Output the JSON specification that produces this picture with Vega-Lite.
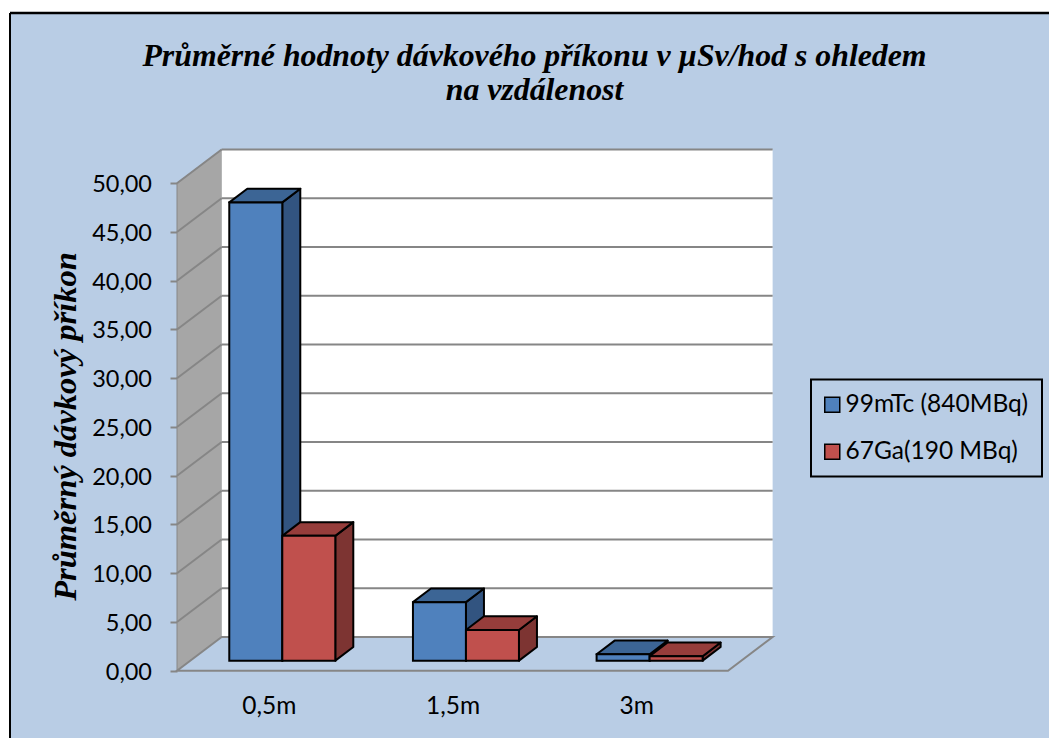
{
  "$schema": "https://vega.github.io/schema/vega-lite/v6.json",
  "autosize": {"type": "none"},
  "padding": {"left": 10, "top": 13, "right": 0, "bottom": 0},
  "width": 1039,
  "height": 725,
  "background": "white",
  "config": {
    "view": {"fill": "#B9CDE5", "stroke": null},
    "font": "Lato",
    "axis": {"grid": false, "domain": false},
    "legend": {"strokeWidth": 2}
  },
  "title": {
    "text": ["Průměrné hodnoty dávkového příkonu v µSv/hod s ohledem", "na vzdálenost"],
    "font": "Liberation Serif",
    "fontSize": 31.8,
    "fontWeight": "bold",
    "fontStyle": "italic",
    "color": "black",
    "anchor": "middle",
    "frame": "group",
    "lineHeight": 34,
    "dx": 5,
    "dy": 99
  },
  "data": {
    "values": [
      {"category": "0,5m", "series": "99mTc (840MBq)", "value": 47.0},
      {"category": "0,5m", "series": "67Ga(190 MBq)", "value": 12.8},
      {"category": "1,5m", "series": "99mTc (840MBq)", "value": 6.0},
      {"category": "1,5m", "series": "67Ga(190 MBq)", "value": 3.15},
      {"category": "3m", "series": "99mTc (840MBq)", "value": 0.65},
      {"category": "3m", "series": "67Ga(190 MBq)", "value": 0.45}
    ]
  },
  "transform": [
    {"calculate": "indexof(['0,5m','1,5m','3m'], datum.category) + 0.2846 + (datum.series === '99mTc (840MBq)' ? 0 : 0.2886)", "as": "left"},
    {"calculate": "datum.left + 0.2886", "as": "right"},
    {"calculate": "1.03", "as": "base"},
    {"calculate": "datum.value + 1.03", "as": "top"}
  ],
  "layer": [
    {
      "description": "Left wall of the box",
      "data": {"values": [{"plane": 0}, {"plane": 1}]},
      "transform": [
        {"calculate": "datum.plane * 0.243", "as": "wx"},
        {"calculate": "datum.plane * 3.45", "as": "wlow"},
        {"calculate": "50 + datum.plane * 3.45", "as": "whigh"}
      ],
      "mark": {"type": "area", "fill": "#A6A6A6", "stroke": "#868686", "strokeWidth": 1},
      "encoding": {
        "x": {
          "field": "wx",
          "type": "quantitative",
          "scale": {"domain": [-0.9093, 4.7477], "nice": false, "zero": false},
          "axis": {
            "values": [0.5, 1.5, 2.5],
            "labelExpr": "['0,5m','1,5m','3m'][floor(datum.value)]",
            "title": null,
            "ticks": false,
            "offset": -67.3,
            "labelPadding": 24,
            "labelFontSize": 24.5,
            "labelFont": "Lato",
            "labelColor": "black"
          }
        },
        "y": {
          "field": "wlow",
          "type": "quantitative",
          "scale": {"domain": [-6.903, 67.456], "nice": false, "zero": false},
          "axis": {
            "values": [0, 5, 10, 15, 20, 25, 30, 35, 40, 45, 50],
            "labelExpr": "replace(format(datum.value, '.2f'), '.', ',')",
            "title": "Průměrný dávkový příkon",
            "titleFont": "Liberation Serif",
            "titleFontSize": 32.5,
            "titleFontWeight": "bold",
            "titleFontStyle": "italic",
            "titleColor": "black",
            "titleAngle": -90,
            "titleX": -102,
            "titleY": 413,
            "titleAlign": "center",
            "titleBaseline": "alphabetic",
            "tickColor": "#868686",
            "tickWidth": 2,
            "tickSize": 7,
            "offset": -167,
            "labelPadding": 18.5,
            "labelOffset": 1.5,
            "labelFontSize": 23.5,
            "labelFont": "Lato",
            "labelColor": "black"
          }
        },
        "y2": {"field": "whigh"}
      }
    },
    {
      "description": "Back wall",
      "data": {"values": [{"from": 0, "to": 3, "low": 0, "high": 50}]},
      "transform": [
        {"calculate": "datum.from + 0.243", "as": "bx"},
        {"calculate": "datum.to + 0.243", "as": "bx2"},
        {"calculate": "datum.low + 3.45", "as": "by"},
        {"calculate": "datum.high + 3.45", "as": "by2"}
      ],
      "mark": {"type": "rect", "fill": "white"},
      "encoding": {
        "x": {"field": "bx", "type": "quantitative"},
        "x2": {"field": "bx2"},
        "y": {"field": "by", "type": "quantitative"},
        "y2": {"field": "by2"}
      }
    },
    {
      "description": "Floor of the box",
      "data": {"values": [{"plane": 0}, {"plane": 1}]},
      "transform": [
        {"calculate": "datum.plane * 0.243", "as": "fx"},
        {"calculate": "3 + datum.plane * 0.243", "as": "fx2"},
        {"calculate": "datum.plane * 3.45", "as": "fy"}
      ],
      "mark": {"type": "area", "orient": "horizontal", "fill": "#B9CDE5", "stroke": "#868686", "strokeWidth": 2},
      "encoding": {
        "x": {"field": "fx", "type": "quantitative"},
        "x2": {"field": "fx2"},
        "y": {"field": "fy", "type": "quantitative"}
      }
    },
    {
      "description": "Horizontal gridlines on the back wall",
      "data": {"values": [{"tick": 5}, {"tick": 10}, {"tick": 15}, {"tick": 20}, {"tick": 25}, {"tick": 30}, {"tick": 35}, {"tick": 40}, {"tick": 45}, {"tick": 50}]},
      "transform": [
        {"calculate": "0.243", "as": "gx"},
        {"calculate": "3.243", "as": "gx2"},
        {"calculate": "datum.tick + 3.45", "as": "gy"}
      ],
      "mark": {"type": "rule", "stroke": "#868686", "strokeWidth": 2},
      "encoding": {
        "x": {"field": "gx", "type": "quantitative"},
        "x2": {"field": "gx2"},
        "y": {"field": "gy", "type": "quantitative"}
      }
    },
    {
      "description": "Diagonal gridlines on the left wall",
      "data": {"values": [{"tick": 5}, {"tick": 10}, {"tick": 15}, {"tick": 20}, {"tick": 25}, {"tick": 30}, {"tick": 35}, {"tick": 40}, {"tick": 45}, {"tick": 50}]},
      "transform": [
        {"calculate": "0", "as": "dx1"},
        {"calculate": "0.243", "as": "dx2"},
        {"calculate": "datum.tick + 3.45", "as": "dy2"}
      ],
      "mark": {"type": "rule", "stroke": "#868686", "strokeWidth": 2},
      "encoding": {
        "x": {"field": "dx1", "type": "quantitative"},
        "x2": {"field": "dx2"},
        "y": {"field": "tick", "type": "quantitative"},
        "y2": {"field": "dy2"}
      }
    },
    {
      "description": "Right-hand faces of the bars",
      "transform": [
        {"calculate": "[0, 1]", "as": "k"},
        {"flatten": ["k"]},
        {"calculate": "datum.right + datum.k * 0.098", "as": "sideX"},
        {"calculate": "datum.top + datum.k * 1.405", "as": "sideTop"},
        {"calculate": "datum.base + datum.k * 1.405", "as": "sideBase"}
      ],
      "mark": {"type": "area", "stroke": "black", "strokeWidth": 2, "strokeJoin": "round"},
      "encoding": {
        "x": {"field": "sideX", "type": "quantitative"},
        "y": {"field": "sideTop", "type": "quantitative"},
        "y2": {"field": "sideBase"},
        "detail": {"field": "category"},
        "fill": {
          "field": "series",
          "type": "nominal",
          "legend": null,
          "scale": {"domain": ["99mTc (840MBq)", "67Ga(190 MBq)"], "range": ["#325480", "#7D3432"]}
        }
      }
    },
    {
      "description": "Top faces of the bars",
      "transform": [
        {"calculate": "[0, 1]", "as": "k"},
        {"flatten": ["k"]},
        {"calculate": "datum.left + datum.k * 0.098", "as": "capLeft"},
        {"calculate": "datum.right + datum.k * 0.098", "as": "capRight"},
        {"calculate": "datum.top + datum.k * 1.405", "as": "capY"}
      ],
      "mark": {"type": "area", "orient": "horizontal", "stroke": "black", "strokeWidth": 2, "strokeJoin": "round"},
      "encoding": {
        "x": {"field": "capLeft", "type": "quantitative"},
        "x2": {"field": "capRight"},
        "y": {"field": "capY", "type": "quantitative"},
        "detail": {"field": "category"},
        "fill": {
          "field": "series",
          "type": "nominal",
          "legend": null,
          "scale": {"domain": ["99mTc (840MBq)", "67Ga(190 MBq)"], "range": ["#3C6595", "#963D3B"]}
        }
      }
    },
    {
      "description": "Front faces of the bars",
      "mark": {"type": "rect", "stroke": "black", "strokeWidth": 2},
      "encoding": {
        "x": {"field": "left", "type": "quantitative"},
        "x2": {"field": "right"},
        "y": {"field": "top", "type": "quantitative"},
        "y2": {"field": "base"},
        "fill": {
          "field": "series",
          "type": "nominal",
          "scale": {"domain": ["99mTc (840MBq)", "67Ga(190 MBq)"], "range": ["#4F81BD", "#C0504D"]},
          "legend": {
            "title": null,
            "orient": "none",
            "legendX": 801,
            "legendY": 366.5,
            "strokeColor": "black",
            "padding": 13,
            "rowPadding": 22,
            "symbolType": "square",
            "symbolSize": 225,
            "symbolOffset": -4,
            "symbolStrokeColor": "black",
            "symbolStrokeWidth": 1.5,
            "labelFont": "Lato",
            "labelFontSize": 24.5,
            "labelLimit": 300,
            "labelColor": "black",
            "labelOffset": 1
          }
        }
      }
    },
    {
      "description": "Outer frame, left edge",
      "data": {"values": [{"edge": "left"}]},
      "mark": {"type": "rule", "stroke": "black", "strokeWidth": 2},
      "encoding": {"x": {"datum": -0.9093, "type": "quantitative"}}
    },
    {
      "description": "Outer frame, top edge",
      "data": {"values": [{"edge": "top"}]},
      "mark": {"type": "rule", "stroke": "black", "strokeWidth": 2.5},
      "encoding": {"y": {"datum": 67.456, "type": "quantitative"}}
    }
  ],
  "resolve": {"scale": {"fill": "independent"}, "legend": {"fill": "independent"}}
}
